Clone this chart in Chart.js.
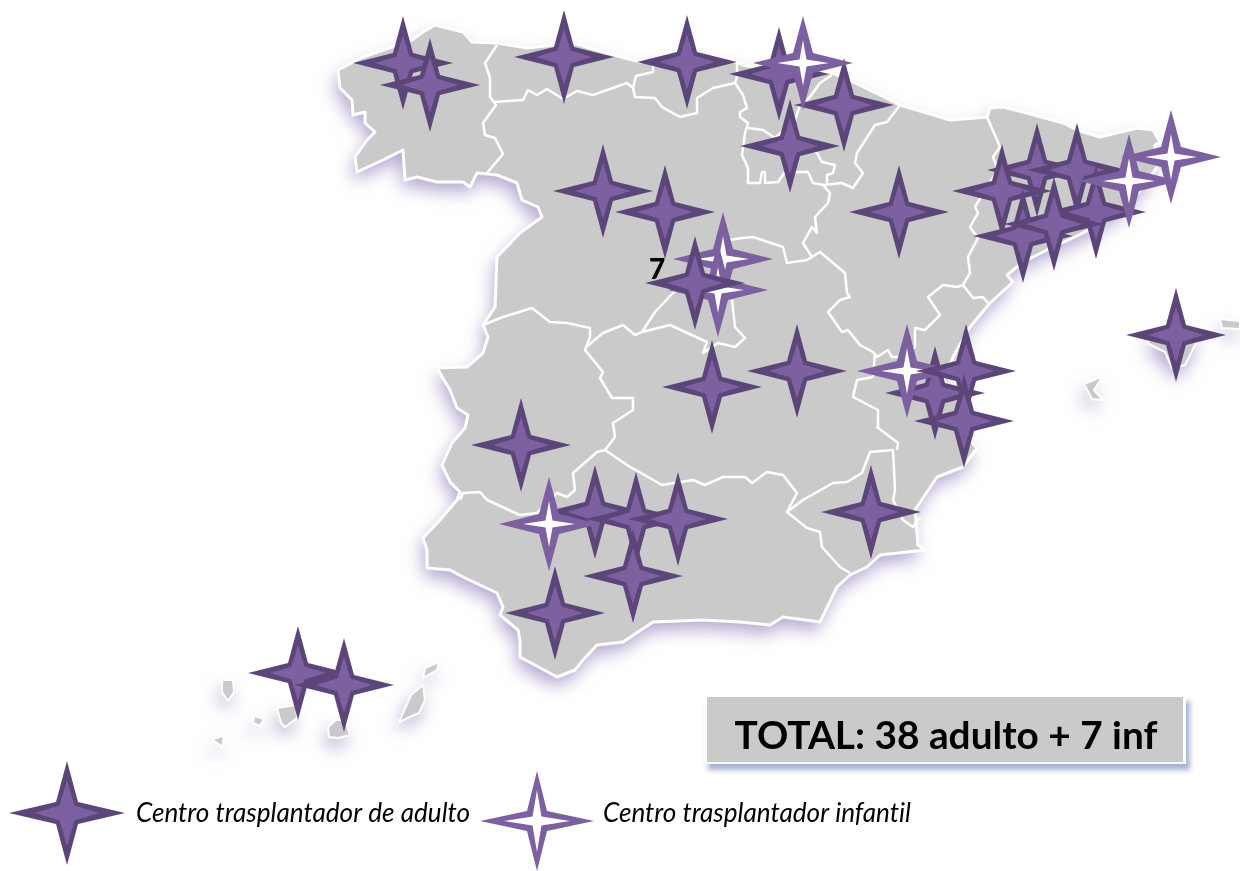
<!DOCTYPE html>
<html>
<head>
<meta charset="utf-8">
<title>Centros trasplantadores</title>
<script src="https://cdn.jsdelivr.net/npm/chart.js@4/dist/chart.umd.min.js"></script>
<style>
  html, body { margin: 0; padding: 0; background: #fff; }
  canvas { display: block; }
</style>
</head>
<body>
<canvas id="mapa" width="1240" height="871"></canvas>
<script>
// centers (the x/y scales below are in picture pixels)
const adultosDetras = [[403,63],[430,85],[564,57],[687,62],[779,74],[844,105],[790,146],[603,191],[665,212],
  [899,212],[1037,170],[1077,170],[1002,191],[1096,212],[1023,236],[1054,224],[1176,335],[935,393],[797,371],
  [712,387],[521,445],[595,512],[636,519],[678,519],[633,576],[555,613],[871,512],[298,673],[344,685]];
const infantiles = [[723,259],[718,290],[803,63],[1129,181],[1171,157],[907,371],[549,524]];
const adultosDelante = [[695,283],[966,371],[964,421]];
const leyendaAdulto = [[67,813]];
const leyendaInfantil = [[537,821]];

const textoTotal = 'TOTAL: 38 adulto + 7 inf';
const textoAdulto = 'Centro trasplantador de adulto';
const textoInfantil = 'Centro trasplantador infantil';
const textoMadrid = '7';

// map outlines
const costa = [[338,70],[363,57],[412,40],[423,32],[435,25],[447,28],[463,32],[472,42],[497,43],[527,48],[573,43],[603,52],
  [640,62],[673,57],[723,57],[743,65],[770,70],[800,75],[830,72],[855,83],[880,95],[900,105],[950,120],[987,117],[990,108],
  [1003,107],[1023,112],[1063,123],[1077,130],[1100,137],[1137,128],[1153,130],[1160,142],[1155,145],[1157,167],[1143,187],
  [1130,203],[1107,220],[1083,233],[1047,250],[1023,262],[1007,275],[1013,282],[990,303],[970,327],[953,357],[943,380],
  [957,400],[963,433],[977,448],[963,467],[937,477],[915,510],[918,545],[925,550],[880,555],[867,567],[850,575],[837,587],
  [820,622],[783,617],[770,625],[740,622],[703,620],[653,622],[623,642],[597,645],[583,660],[575,670],[557,677],[520,657],
  [520,640],[518,630],[500,615],[503,607],[497,593],[463,577],[450,570],[427,568],[427,550],[423,538],[440,520],[457,500],
  [460,492],[450,482],[442,465],[452,443],[465,428],[468,415],[457,408],[450,390],[437,368],[467,367],[483,353],[488,337],
  [483,325],[495,307],[497,257],[520,233],[542,217],[538,207],[522,200],[517,183],[497,175],[477,173],[470,187],[463,182],
  [437,182],[417,177],[405,180],[403,150],[383,160],[357,172],[355,157],[367,140],[375,132],[365,123],[365,112],[353,115],
  [352,100],[340,88],[338,70]];
const mallorca = [[1147,343],[1165,352],[1172,368],[1185,365],[1195,345],[1200,335],[1180,325],[1160,330],[1147,343]];
const ibiza = [[1084,384],[1103,376],[1094,390],[1103,400],[1092,399],[1084,384]];
const menorca = [[1220,319],[1240,321],[1240,329],[1222,328],[1220,319]];
const laPalma = [[222,680],[233,680],[234,692],[228,701],[222,692],[222,680]];
const gomera = [[254,716],[264,719],[260,726],[253,723],[254,716]];
const tenerife = [[277,708],[296,705],[297,718],[285,727],[281,723],[277,708]];
const hierro = [[212,739],[224,736],[222,747],[212,739]];
const granCanaria = [[328,727],[336,720],[345,720],[350,735],[338,738],[329,737],[328,727]];
const fuerteventura = [[411,695],[423,685],[425,700],[419,713],[399,722],[411,695]];
const lanzarote = [[425,668],[439,662],[437,670],[423,678],[425,668]];

const fronteras = [
  [[497,45],[485,63],[490,78],[490,97],[496,105],[483,123],[485,135],[495,138],[503,154],[487,173]],
  [[493,102],[523,100],[528,90],[537,95],[547,89],[563,99],[570,95],[577,91],[593,95],[607,90],[627,83],[633,88],[635,97],
   [655,98],[662,107],[680,117],[697,113],[697,98],[713,88],[735,83]],
  [[633,88],[636,76],[653,72],[653,65]],
  [[737,65],[737,77],[735,83],[743,95],[747,108],[740,112],[740,117],[748,123],[745,133],[742,155],[748,168],[748,183],
   [760,183],[762,172],[765,172],[765,183],[778,182],[785,172],[808,172],[813,183],[823,185],[830,193],[828,203],[815,217],
   [817,233],[812,227],[803,243],[812,257]],
  [[748,128],[763,130],[775,138],[795,120],[800,105],[810,97],[820,83],[832,75]],
  [[775,138],[800,140],[817,153],[822,162],[835,165],[833,173],[827,175],[827,183]],
  [[900,105],[887,122],[875,125],[857,153],[855,163],[863,173],[853,188],[842,183],[823,185]],
  [[987,117],[1000,147],[993,157],[998,170],[985,190],[975,207],[978,213],[970,227],[978,238],[968,257],[970,273],[963,285]],
  [[730,240],[742,238],[753,237],[783,247],[787,263],[807,260],[820,252],[845,273],[847,293],[850,297],[840,300],[828,312],
   [842,332],[848,330],[860,345],[873,352],[877,357],[888,350],[892,357],[903,357],[915,347],[915,328],[925,330],[940,315],
   [928,297],[943,285],[957,287],[963,285],[973,298],[983,297],[988,303]],
  [[730,240],[700,270],[673,293],[655,312],[642,332]],
  [[483,325],[503,317],[532,308],[550,322],[567,323],[590,328],[590,337],[585,350],[603,372],[600,378],[612,398],[633,398],
   [633,410],[613,423],[615,437],[605,450],[597,452],[573,473],[575,490],[567,497],[557,493],[537,513],[520,515],[487,500],
   [480,492],[463,493],[460,500]],
  [[585,348],[603,333],[623,325],[635,335],[642,332],[670,325],[707,342],[703,353],[718,343],[735,347],[745,338],[735,327],
   [732,300]],
  [[605,450],[627,465],[662,485],[693,480],[705,485],[723,477],[745,477],[752,483],[767,472],[783,475],[797,493],[787,512],
   [807,528],[820,532],[822,547],[840,567],[850,573]],
  [[787,512],[803,500],[833,483],[847,482],[862,473],[870,452],[893,450],[895,490],[893,500],[903,520],[913,527],[920,517]],
  [[897,450],[898,443],[877,427],[878,410],[853,397],[857,380],[873,377],[875,353]]
];

function aPuntos(lista) {
  return lista.map(function (p) { return { x: p[0], y: p[1] }; });
}

// four pointed star on its own canvas, used as pointStyle
function estrella(rx, ry, cintura, rxIn, ryIn, cinturaIn, colorFuera, colorDentro) {
  const c = document.createElement('canvas');
  c.width = rx * 2 + 4;
  c.height = ry * 2 + 4;
  const g = c.getContext('2d');
  function forma(a, b, w, color) {
    g.beginPath();
    g.moveTo(0, -b); g.lineTo(w, -w); g.lineTo(a, 0); g.lineTo(w, w);
    g.lineTo(0, b); g.lineTo(-w, w); g.lineTo(-a, 0); g.lineTo(-w, -w);
    g.closePath();
    g.fillStyle = color;
    g.fill();
  }
  g.translate(c.width / 2, c.height / 2);
  forma(rx, ry, cintura, colorFuera);
  forma(rxIn, ryIn, cinturaIn, colorDentro);
  return c;
}

const oscuro = '#5c4679';
const claro = '#7d60a0';
const estrellaAdulto = estrella(50, 47, 10, 28, 28, 6.5, oscuro, claro);
const estrellaInfantil = estrella(50, 47, 10, 26, 23, 3.5, claro, '#ffffff');
const estrellaAdultoGrande = estrella(58, 52, 11, 32, 33, 7.5, oscuro, claro);
const estrellaInfantilGrande = estrella(57, 50, 10, 33, 31, 4.5, claro, '#ffffff');

function capaEstrellas(nombre, lista, imagen, orden) {
  return { label: nombre, data: aPuntos(lista), pointStyle: imagen, pointRadius: 50, showLine: false, order: orden, clip: false };
}

function capaMapa(nombre, lista, relleno, grosor) {
  return {
    label: nombre, data: aPuntos(lista), showLine: true, tension: 0, pointRadius: 0,
    borderColor: '#ffffff', borderWidth: grosor, borderJoinStyle: 'round',
    fill: relleno ? 'shape' : false, backgroundColor: '#cacaca', order: relleno ? 20 : 10, sombra: relleno
  };
}

const islas = { mallorca, ibiza, menorca, laPalma, gomera, tenerife, hierro, granCanaria, fuerteventura, lanzarote };
const capas = [
  capaEstrellas('Centro trasplantador de adulto', leyendaAdulto, estrellaAdultoGrande, 1),
  capaEstrellas('Centro trasplantador infantil', leyendaInfantil, estrellaInfantilGrande, 1),
  capaEstrellas('Adulto delante', adultosDelante, estrellaAdulto, 2),
  capaEstrellas('Infantil', infantiles, estrellaInfantil, 3),
  capaEstrellas('Adulto', adultosDetras, estrellaAdulto, 4),
  capaMapa('Costa', costa, true, 3)
];
Object.keys(islas).forEach(function (k) { capas.push(capaMapa(k, islas[k], true, 2)); });
fronteras.forEach(function (f, i) { capas.push(capaMapa('Frontera ' + i, f, false, 2.5)); });

// soft purple shadow under the land, painted before the datasets
const sombraTierra = {
  id: 'sombraTierra',
  beforeDatasetsDraw(chart) {
    const ctx = chart.ctx, sx = chart.scales.x, sy = chart.scales.y;
    ctx.save();
    ctx.shadowColor = 'rgba(120,96,170,0.55)';
    ctx.shadowBlur = 17;
    ctx.shadowOffsetX = -3;
    ctx.shadowOffsetY = 9;
    ctx.fillStyle = '#cacaca';
    chart.data.datasets.forEach(function (d) {
      if (!d.sombra) return;
      ctx.beginPath();
      d.data.forEach(function (p, i) {
        const x = sx.getPixelForValue(p.x), y = sy.getPixelForValue(p.y);
        if (i === 0) ctx.moveTo(x, y); else ctx.lineTo(x, y);
      });
      ctx.closePath();
      ctx.fill();
    });
    ctx.restore();
  }
};

// total box and the texts
const rotulos = {
  id: 'rotulos',
  afterDatasetsDraw(chart) {
    const ctx = chart.ctx, sx = chart.scales.x, sy = chart.scales.y;
    ctx.save();
    ctx.shadowColor = 'rgba(120,135,190,0.65)';
    ctx.shadowBlur = 5;
    ctx.shadowOffsetX = 4;
    ctx.shadowOffsetY = 6;
    ctx.fillStyle = '#ffffff';
    ctx.fillRect(sx.getPixelForValue(704), sy.getPixelForValue(695), 482, 69);
    ctx.restore();
    ctx.fillStyle = '#cacaca';
    ctx.fillRect(sx.getPixelForValue(707), sy.getPixelForValue(697), 476, 65);

    ctx.fillStyle = '#000000';
    ctx.letterSpacing = '0.01px';
    ctx.textBaseline = 'alphabetic';
    ctx.textAlign = 'center';
    ctx.font = 'bold 38.8px Lato, sans-serif';
    ctx.fillText(textoTotal, sx.getPixelForValue(946), sy.getPixelForValue(749));
    ctx.font = '900 28px Lato, sans-serif';
    ctx.fillText(textoMadrid, sx.getPixelForValue(657), sy.getPixelForValue(279));
    ctx.textAlign = 'left';
    ctx.font = 'italic 26.1px Lato, sans-serif';
    ctx.fillText(textoAdulto, sx.getPixelForValue(136), sy.getPixelForValue(822));
    ctx.fillText(textoInfantil, sx.getPixelForValue(603), sy.getPixelForValue(822));
  }
};

new Chart(document.getElementById('mapa'), {
  type: 'scatter',
  data: { datasets: capas },
  options: {
    responsive: false,
    animation: false,
    events: [],
    layout: { padding: 0, autoPadding: false },
    plugins: { legend: { display: false }, tooltip: { enabled: false } },
    scales: {
      x: { type: 'linear', min: 0, max: 1240, display: false },
      y: { type: 'linear', min: 0, max: 871, reverse: true, display: false }
    }
  },
  plugins: [sombraTierra, rotulos]
});
</script>
</body>
</html>
